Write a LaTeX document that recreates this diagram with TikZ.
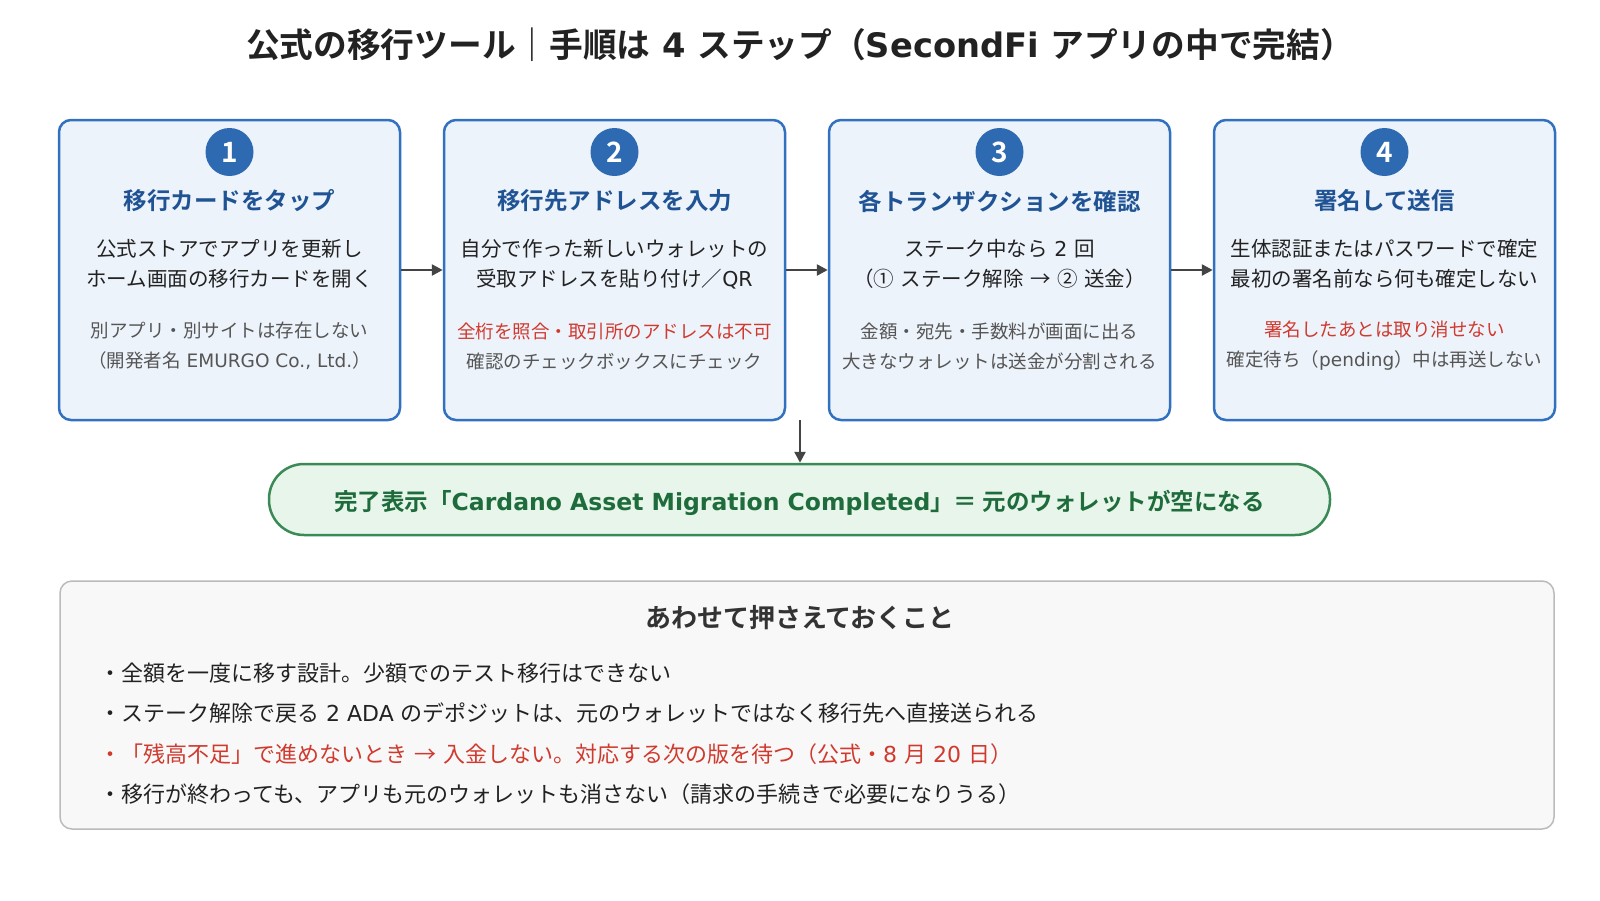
\documentclass[tikz,border=0pt]{standalone}
\usepackage{fontspec}
\setmainfont{Noto Sans CJK JP}[BoldFont={Noto Sans CJK JP Bold}]
\newfontfamily\latf{DejaVu Sans}
\newcommand{\lat}[1]{{\latf #1}}
\usetikzlibrary{arrows.meta}
\definecolor{boxfill}{HTML}{EDF3FB}
\definecolor{boxline}{HTML}{3271BF}
\definecolor{numfill}{HTML}{2E6AB1}
\definecolor{ttlblue}{HTML}{1F5394}
\definecolor{txt}{HTML}{222222}
\definecolor{subtxt}{HTML}{555555}
\definecolor{warn}{HTML}{D03A2E}
\definecolor{pillfill}{HTML}{E8F5EA}
\definecolor{pillline}{HTML}{3A8A55}
\definecolor{pilltxt}{HTML}{1E6B3B}
\definecolor{notefill}{HTML}{F8F8F8}
\definecolor{noteline}{HTML}{BBBBBB}
\definecolor{arr}{HTML}{444444}
\definecolor{headtxt}{HTML}{333333}
\newcommand{\setfs}[2]{\fontsize{#1}{#2}\selectfont}
\begin{document}
\begin{tikzpicture}[x=1pt,y=-1pt,
  stepbox/.style={draw=boxline, fill=boxfill, line width=2.5pt, rounded corners=12pt,
    minimum width=341pt, minimum height=300pt, inner sep=0pt},
  numc/.style={circle, fill=numfill, minimum size=48pt, inner sep=0pt, text=white,
    font=\setfs{28}{28}\bfseries},
  steptitle/.style={text=ttlblue, font=\setfs{23.5}{28}\bfseries, inner sep=0pt},
  stepbody/.style={text=txt, font=\setfs{20.5}{30}, align=center, inner sep=0pt},
  stepsub/.style={text=subtxt, font=\setfs{18.5}{30}, align=center, inner sep=0pt},
  conn/.style={draw=arr, line width=2.5pt, -{Triangle[length=11pt,width=11pt]}},
  pill/.style={draw=pillline, fill=pillfill, line width=2.5pt, rounded corners=35pt,
    minimum width=1061pt, minimum height=71pt, inner sep=0pt},
  pilltext/.style={text=pilltxt, font=\setfs{23.5}{28}\bfseries, inner sep=0pt},
  notebox/.style={draw=noteline, fill=notefill, line width=1.5pt, rounded corners=12pt,
    minimum width=1494pt, minimum height=248pt, inner sep=0pt},
  bullet/.style={anchor=west, text=txt, font=\setfs{22}{26}, inner sep=0pt}
]
\useasboundingbox (0,0) rectangle (1600,900);
\fill[white] (0,0) rectangle (1600,900);

% title
\node[text=txt, font=\setfs{33.7}{38}\bfseries, inner sep=0pt] (title) at (800,45)
  {公式の移行ツール｜手順は\lat{ 4 }ステップ（\lat{SecondFi }アプリの中で完結）};

% step boxes
\node[stepbox] (b1) at (229.5,270) {};
\node[stepbox] (b2) at (614.5,270) {};
\node[stepbox] (b3) at (999.5,270) {};
\node[stepbox] (b4) at (1384.5,270) {};

\node[numc] (n1) at (229.5,152) {1};
\node[numc] (n2) at (614.5,152) {2};
\node[numc] (n3) at (999.5,152) {3};
\node[numc] (n4) at (1384.5,152) {4};

\node[steptitle] (t1) at (229.5,201) {移行カードをタップ};
\node[steptitle] (t2) at (614.5,201) {移行先アドレスを入力};
\node[steptitle] (t3) at (999.5,201) {各トランザクションを確認};
\node[steptitle] (t4) at (1384.5,201) {署名して送信};

\node[stepbody] (d1) at (229.5,264) {公式ストアでアプリを更新し\\ホーム画面の移行カードを開く};
\node[stepbody] (d2) at (614.5,264) {自分で作った新しいウォレットの\\受取アドレスを貼り付け／\lat{QR}};
\node[stepbody] (d3) at (999.5,264) {ステーク中なら\lat{ 2 }回\\（①\lat{ }ステーク解除\lat{ }→\lat{ }②\lat{ }送金）};
\node[stepbody] (d4) at (1384.5,264) {生体認証またはパスワードで確定\\最初の署名前なら何も確定しない};

\node[stepsub] (s1) at (229.5,346) {別アプリ・別サイトは存在しない\\（開発者名\lat{ EMURGO Co., Ltd.}）};
\node[stepsub] (s2) at (614.5,346) {\textcolor{warn}{全桁を照合・取引所のアドレスは不可}\\確認のチェックボックスにチェック};
\node[stepsub] (s3) at (999.5,346) {金額・宛先・手数料が画面に出る\\大きなウォレットは送金が分割される};
\node[stepsub] (s4) at (1384.5,346) {\textcolor{warn}{署名したあとは取り消せない}\\確定待ち（\lat{pending}）中は再送しない};

\draw[conn] (b1.east) -- (b2.west);
\draw[conn] (b2.east) -- (b3.west);
\draw[conn] (b3.east) -- (b4.west);

% completion pill
\node[pill] (pill) at (799.5,499.5) {};
\node[pilltext] (pillt) at (799.5,503) {完了表示「\lat{Cardano Asset Migration Completed}」＝ 元のウォレットが空になる};
\coordinate (dstart) at (800,420);
\draw[conn] (dstart) -- (dstart |- pill.north);

% notes
\node[notebox] (note) at (807,705) {};
\node[text=headtxt, font=\setfs{26}{30}\bfseries, inner sep=0pt] (nh) at (800,618) {あわせて押さえておくこと};
\node[bullet] (p1) at (99,673) {・全額を一度に移す設計。少額でのテスト移行はできない};
\node[bullet] (p2) at (99,713) {・ステーク解除で戻る\lat{ 2 ADA }のデポジットは、元のウォレットではなく移行先へ直接送られる};
\node[bullet, text=warn] (p3) at (99,754) {・「残高不足」で進めないとき\lat{ }→\lat{ }入金しない。対応する次の版を待つ（公式・\lat{8 }月\lat{ 20 }日）};
\node[bullet] (p4) at (99,794) {・移行が終わっても、アプリも元のウォレットも消さない（請求の手続きで必要になりうる）};
\end{tikzpicture}
\end{document}
